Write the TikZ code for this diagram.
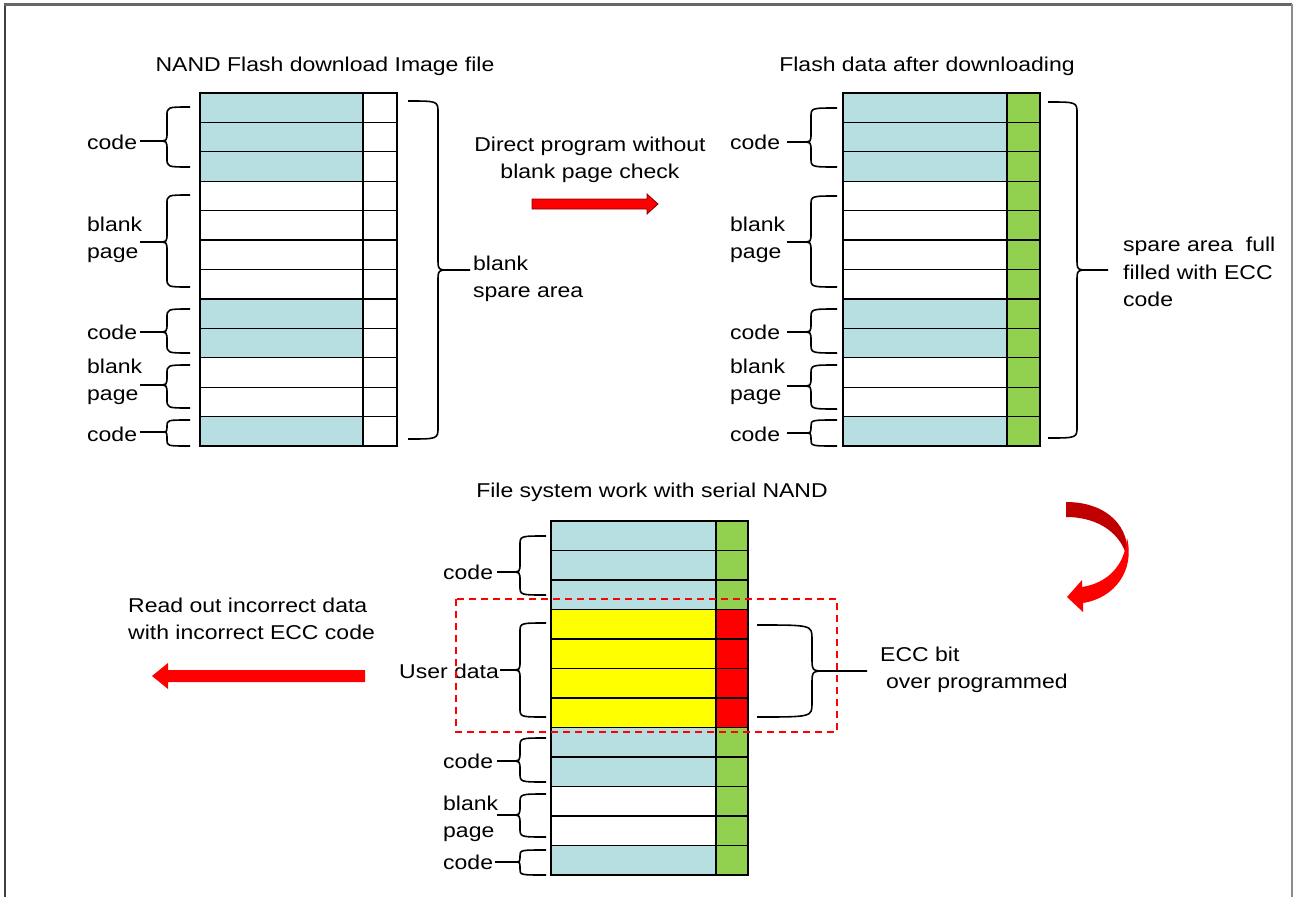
\documentclass[tikz,border=0pt]{standalone}
\usepackage{fontspec}
\setmainfont{Liberation Sans}[FakeStretch=1.15]
\usetikzlibrary{arrows.meta}
\definecolor{cb}{RGB}{183,222,225}
\definecolor{cg}{RGB}{146,208,80}
\definecolor{cy}{RGB}{255,255,0}
\definecolor{cr}{RGB}{255,0,0}
\definecolor{cw}{RGB}{255,255,255}
\definecolor{dred}{RGB}{192,0,0}
% #1 end x, #2 spine x, #3 tip x, #4 top y, #5 bottom y, #6 tip y, #7 hook radius
\newcommand\nandbrace[7]{%
  \pgfmathsetmacro\brr{min(#7,(#6-#4)/2,(#5-#6)/2)}%
  \pgfmathsetmacro\brs{(#3-#2)/abs(#3-#2)}%
  \draw[brline] (#1,#4) .. controls (#2,#4) .. (#2,{#4+\brr}) -- (#2,{#6-\brr})
     .. controls (#2,#6) .. ({#2+\brs*\brr},#6) -- (#3,#6);
  \draw[brline] (#1,#5) .. controls (#2,#5) .. (#2,{#5-\brr}) -- (#2,{#6+\brr})
     .. controls (#2,#6) .. ({#2+\brs*\brr},#6);
}
\begin{document}
\begin{tikzpicture}[x=1pt,y=-1pt,
  cell/.style={draw=black,line width=1.3pt,rectangle,inner sep=0pt,outer sep=0pt,anchor=north west},
  txt/.style={font=\fontsize{20}{27.5}\selectfont,inner sep=0pt,text=black},
  brline/.style={draw=black,line width=1.6pt}]
\useasboundingbox (0,0) rectangle (1294,897);
% frame
\draw[color=black!75, line width=2pt] (5,897) -- (5,4);
\draw[color=black!60, line width=3pt] (4,4) -- (1292,4);
\draw[color=black!45, line width=2pt] (1292,4) -- (1292,897);

% tables
\foreach \i/\c in {0/cb,1/cb,2/cb,3/cw,4/cw,5/cw,6/cw,7/cb,8/cb,9/cw,10/cw,11/cb} {
  \node[cell,fill=\c,minimum width=163pt,minimum height=29.42pt] (Lm\i) at (200,{93+\i*29.42}) {};
  \node[cell,fill=white,minimum width=34pt,minimum height=29.42pt] (Ls\i) at (363,{93+\i*29.42}) {};
  \node[cell,fill=\c,minimum width=164pt,minimum height=29.42pt] (Rm\i) at (843,{93+\i*29.42}) {};
  \node[cell,fill=cg,minimum width=33pt,minimum height=29.42pt] (Rs\i) at (1007,{93+\i*29.42}) {};
}
\foreach \i/\c/\s in {0/cb/cg,1/cb/cg,2/cb/cg,3/cy/cr,4/cy/cr,5/cy/cr,6/cy/cr,7/cb/cg,8/cb/cg,9/cw/cg,10/cw/cg,11/cb/cg} {
  \node[cell,fill=\c,minimum width=165pt,minimum height=29.5pt] (Bm\i) at (551,{521+\i*29.5}) {};
  \node[cell,fill=\s,minimum width=32pt,minimum height=29.5pt] (Bs\i) at (716,{521+\i*29.5}) {};
}

% titles
\node[txt] (tL) at (325,66) {NAND Flash download Image file};
\node[txt] (tR) at (927,66) {Flash data after downloading};
\node[txt] (tB) at (652,492) {File system work with serial NAND};

% left table labels
\node[txt,anchor=west] (lc1) at (87,142) {code};
\node[txt,anchor=west,align=left] (lb1) at (87,240) {blank\\page};
\node[txt,anchor=west] (lc2) at (87,332) {code};
\node[txt,anchor=west,align=left] (lb2) at (87,382) {blank\\page};
\node[txt,anchor=west] (lc3) at (87,434) {code};
% right table labels
\node[txt,anchor=west] (rc1) at (730,142) {code};
\node[txt,anchor=west,align=left] (rb1) at (730,240) {blank\\page};
\node[txt,anchor=west] (rc2) at (730,332) {code};
\node[txt,anchor=west,align=left] (rb2) at (730,382) {blank\\page};
\node[txt,anchor=west] (rc3) at (730,434) {code};
% bottom table labels
\node[txt,anchor=west] (bc1) at (443,572) {code};
\node[txt,anchor=west] (bu) at (399,671) {User data};
\node[txt,anchor=west] (bc2) at (443,761) {code};
\node[txt,anchor=west,align=left] (bb) at (443,819) {blank\\page};
\node[txt,anchor=west] (bc3) at (443,862) {code};

% other texts
\node[txt,align=center] (dp) at (590,160) {Direct program without\\blank page check};
\node[txt,anchor=west,align=left] (bsa) at (473,279) {blank\\spare area};
\node[txt,anchor=west,align=left] (saf) at (1123,272) {spare area\ \ full\\filled with ECC\\code};
\node[txt,anchor=west,align=left] (ecc) at (880,670) {ECC bit\\\hspace*{6pt}over programmed};
\node[txt,anchor=west,align=left] (ro) at (128,619) {Read out incorrect data\\with incorrect ECC code};

% braces top-left table
\nandbrace{190}{167}{140}{107}{167}{141}{9}
\nandbrace{190}{167}{140}{195}{287}{242}{9}
\nandbrace{190}{167}{140}{309}{353}{332}{9}
\nandbrace{190}{167}{140}{365}{408}{385}{9}
\nandbrace{190}{167}{140}{420}{446}{432}{9}
\nandbrace{408}{438}{470}{101}{439}{270}{12}
% braces top-right table
\nandbrace{837}{811}{787}{108}{167}{142}{9}
\nandbrace{837}{811}{787}{196}{287}{242}{9}
\nandbrace{837}{811}{787}{309}{353}{332}{9}
\nandbrace{837}{811}{787}{365}{409}{386}{9}
\nandbrace{837}{811}{787}{420}{446}{433}{9}
\nandbrace{1048}{1077}{1108}{102}{438}{270}{12}
% braces bottom table
\nandbrace{546}{520}{497}{536}{595}{572}{9}
\nandbrace{546}{520}{500}{623}{717}{670}{9}
\nandbrace{546}{520}{497}{738}{782}{761}{9}
\nandbrace{546}{520}{497}{794}{837}{815}{9}
\nandbrace{546}{520}{495}{850}{875}{862}{9}
\nandbrace{757}{812}{867}{625}{717}{671}{14}

% red dashed box
\draw[cr, line width=1.6pt, dash pattern=on 7pt off 5pt] (456,599) rectangle (837,732);

% straight arrows
\fill[cr, draw=dred!70!black, line width=0.8pt] (532,199) -- (647,199) -- (647,194) -- (658,204) -- (647,214) -- (647,209) -- (532,209) -- cycle;
\fill[cr] (365,670) -- (168,670) -- (168,663) -- (152,676) -- (168,689) -- (168,682) -- (365,682) -- cycle;

% curved arrow
\fill[dred] (1066,502) .. controls (1108,502) and (1131,528) .. (1127,558)
   .. controls (1122,535) and (1100,517) .. (1066,517) -- cycle;
\fill[cr] (1127,538) .. controls (1135,570) and (1115,598) .. (1083,603)
   -- (1083,612) -- (1067,597) -- (1082,580) -- (1082,587)
   .. controls (1108,583) and (1125,565) .. (1127,538) -- cycle;
\end{tikzpicture}
\end{document}
